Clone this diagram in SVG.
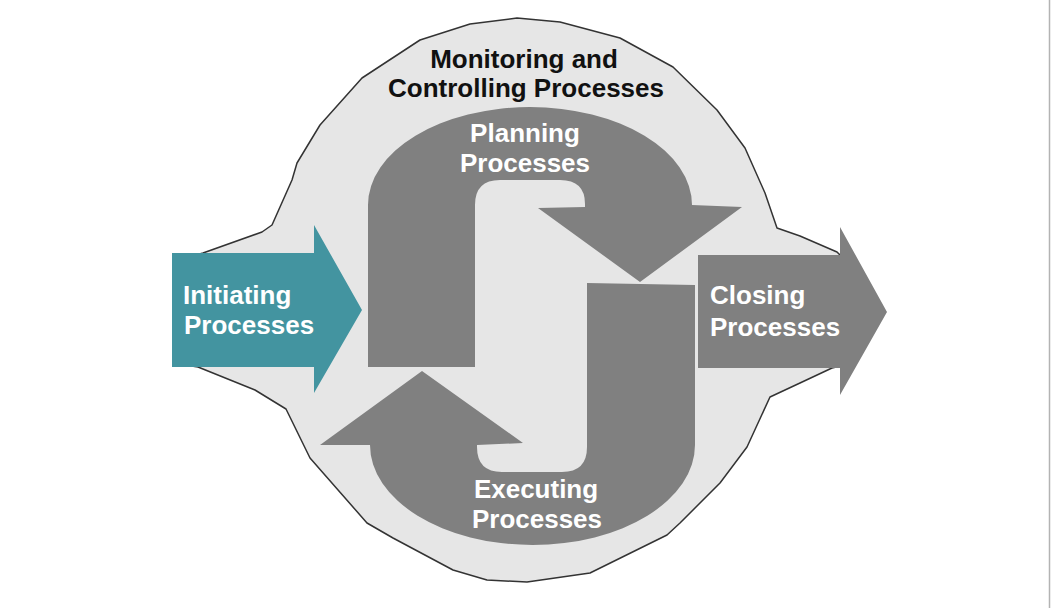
<svg xmlns="http://www.w3.org/2000/svg" width="1051" height="608" viewBox="0 0 1051 608">
  <style>
    .lbl { font-family: "Liberation Sans", Arial, sans-serif; font-weight: bold; font-size: 26px; }
    .wt { fill: #ffffff; }
    .bk { fill: #111111; }
    .gray { fill: #808080; }
  </style>
  <rect x="0" y="0" width="1051" height="608" fill="#ffffff"/>
  <line x1="1049.5" y1="0" x2="1049.5" y2="608" stroke="#b3b3b3" stroke-width="1.5"/>

  <g id="monitoring">
    <polygon points="517,18 560,22 620,38 673,67 717,110 745,148 765,193 777,228 800,236 837,252 845,260 845,365 832,368 800,383 770,397 747,447 720,483 680,523 667,535 590,573 527,582 487,580 453,570 393,538 367,523 310,458 286,409 255,390 198,367 185,365 185,258 203,253 262,232 272,225 280,207 292,180 297,163 320,125 362,78 420,40 470,24"
      fill="#e6e6e6" stroke="#333333" stroke-width="1.5" stroke-linejoin="round"/>
    <text class="lbl bk" x="524" y="68" text-anchor="middle">Monitoring and</text>
    <text class="lbl bk" x="526" y="97" text-anchor="middle">Controlling Processes</text>
  </g>

  <g id="initiating">
    <polygon points="172,253 314,253 314,225 362,310 314,393 314,367 172,367" fill="#4394a0"/>
    <text class="lbl wt" x="183" y="304">Initiating</text>
    <text class="lbl wt" x="184" y="334">Processes</text>
  </g>

  <g id="closing">
    <polygon points="698,255 840,255 840,227 887,312 840,395 840,368 698,368" class="gray"/>
    <text class="lbl wt" x="710" y="304">Closing</text>
    <text class="lbl wt" x="710" y="336">Processes</text>
  </g>

  <g id="planning">
    <path class="gray" d="M368,367 L368,205 A162,98 0 0 1 692,205 L742,207 L640,282 L538,208 L585,207 L585,204 Q585,180 560,180 L500,180 Q475,180 475,205 L475,367 Z"/>
    <text class="lbl wt" x="525" y="142" text-anchor="middle">Planning</text>
    <text class="lbl wt" x="525" y="172" text-anchor="middle">Processes</text>
  </g>

  <g id="executing">
    <path class="gray" d="M587,283 L695,285 L695,445 A162.5,100 0 0 1 370,445 L320,445 L422,371 L523,443 L477,445 L477,447 Q477,472 502,472 L562,472 Q587,472 587,447 Z"/>
    <text class="lbl wt" x="536" y="498" text-anchor="middle">Executing</text>
    <text class="lbl wt" x="537" y="528" text-anchor="middle">Processes</text>
  </g>

  <g id="connectors"/>
</svg>
